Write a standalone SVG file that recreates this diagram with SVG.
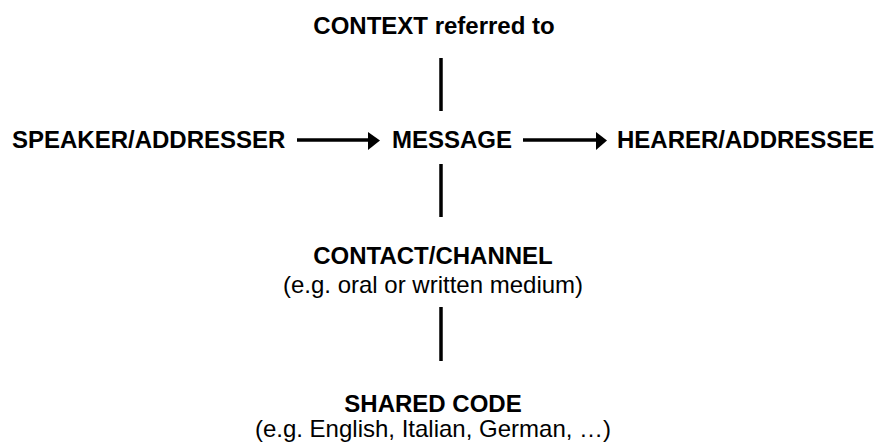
<svg xmlns="http://www.w3.org/2000/svg" width="877" height="445" viewBox="0 0 877 445">
<style>
text{font-family:"Liberation Sans",Arial,sans-serif;font-size:24px;fill:#000}
.b{font-weight:bold}
.c{text-anchor:middle}
.ln{stroke:#000;stroke-width:3.5;fill:none}
.ar{stroke:#000;stroke-width:3.5;fill:none}
.hd{fill:#000}
</style>
<rect width="877" height="445" fill="#fff"/>
<g id="connectors">
<line class="ln" x1="441" y1="58" x2="441" y2="111"/>
<line class="ln" x1="441" y1="164" x2="441" y2="217"/>
<line class="ln" x1="441" y1="307" x2="441" y2="361"/>
<line class="ar" x1="297" y1="140" x2="369" y2="140"/>
<polygon class="hd" points="368,132 380,140.5 368,150"/>
<line class="ar" x1="523" y1="140" x2="597" y2="140"/>
<polygon class="hd" points="596,132 607,140.5 596,150"/>
</g>
<g id="context"><text class="b c" x="434" y="34">CONTEXT referred to</text></g>
<g id="speaker"><text class="b" x="12" y="148">SPEAKER/ADDRESSER</text></g>
<g id="message"><text class="b" x="392" y="148">MESSAGE</text></g>
<g id="hearer"><text class="b" x="617" y="148">HEARER/ADDRESSEE</text></g>
<g id="contact"><text class="b c" x="433" y="264">CONTACT/CHANNEL</text><text class="c" x="433" y="293">(e.g. oral or written medium)</text></g>
<g id="code"><text class="b c" x="433" y="412">SHARED CODE</text><text class="c" x="433" y="437">(e.g. English, Italian, German, …)</text></g>
</svg>
